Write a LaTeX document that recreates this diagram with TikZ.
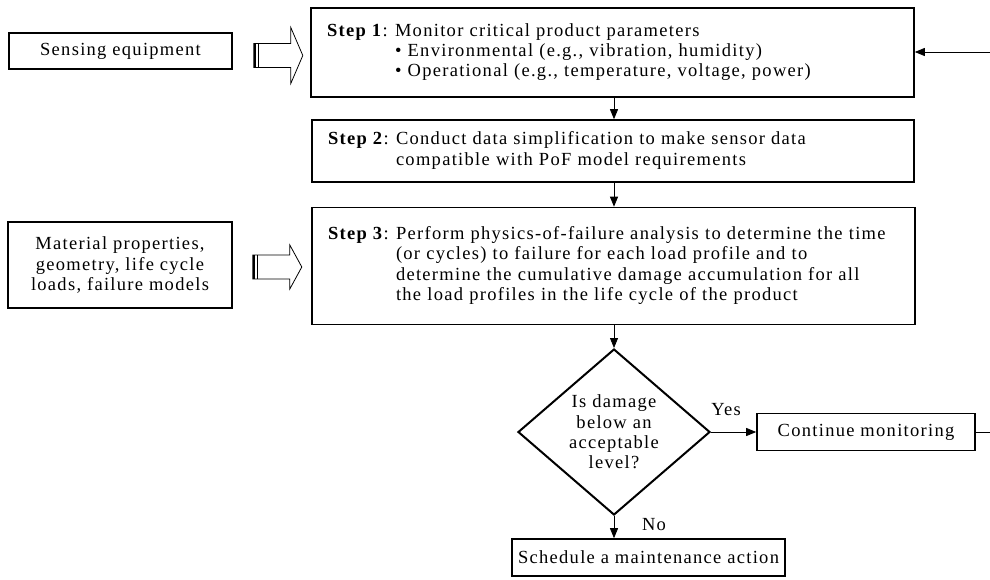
\documentclass[tikz,border=0pt]{standalone}
\usepackage{fontspec}
\setmainfont{Liberation Serif}[LetterSpace=7]
\usetikzlibrary{shapes.geometric,arrows.meta,calc}
\newcommand\fsz{\fontsize{18.5}{20.3}\selectfont}
\begin{document}
\begin{tikzpicture}[x=1pt,y=-1pt,
  box/.style={draw, line width=1.6pt, inner sep=0pt, font=\fsz},
  arr/.style={line width=0.8pt, -{Triangle[length=10pt,width=8pt]}},
  plain/.style={line width=0.8pt},
  lbl/.style={font=\fsz, inner sep=0pt},
  pics/hollowarrow/.style={code={
    \draw[line width=0.8pt, fill=white] (0,-12) -- (37,-12) -- (37,-#1) -- (49,0) -- (37,#1) -- (37,12) -- (0,12) -- cycle;
    \draw[line width=2pt] (1,-12) -- (1,12);
    \draw[line width=1pt] (5,-12) -- (5,12);
  }}]
\useasboundingbox (0,0) rectangle (990,579);

\node[box, minimum width=223pt, minimum height=36pt] (sense) at (120.5,51) {Sensing equipment};
\node[box, minimum width=224pt, minimum height=86pt, align=center] (mat) at (120,265)
  {Material properties,\\geometry, life cycle\\loads, failure models};

\node[box, minimum width=603pt, minimum height=89pt, text width=571pt, align=left] (step1) at (612.5,52.5)
  {\begin{tabular}{@{}p{68pt}@{}l@{}}
   \textbf{Step 1}: & Monitor critical product parameters\\
   & \textbullet\ Environmental (e.g., vibration, humidity)\\
   & \textbullet\ Operational (e.g., temperature, voltage, power)
   \end{tabular}};
\node[box, minimum width=602pt, minimum height=62pt, text width=570pt, align=left] (step2) at (613,151)
  {\begin{tabular}{@{}p{68pt}@{}l@{}}
   \textbf{Step 2}: & Conduct data simplification to make sensor data\\
   & compatible with PoF model requirements
   \end{tabular}};
\node[box, minimum width=603pt, minimum height=117pt, text width=571pt, align=left] (step3) at (613.5,266)
  {\begin{tabular}{@{}p{68pt}@{}l@{}}
   \textbf{Step 3}: & Perform physics-of-failure analysis to determine the time\\
   & (or cycles) to failure for each load profile and to\\
   & determine the cumulative damage accumulation for all\\
   & the load profiles in the life cycle of the product
   \end{tabular}};

\node[diamond, draw, line width=2pt, minimum width=192pt, minimum height=166pt, inner sep=0pt,
  label={[font=\fsz, align=center, inner sep=0pt]center:Is damage\\below an\\acceptable\\level?}] (dia) at (614,432) {};

\node[box, minimum width=218pt, minimum height=37pt] (cont) at (866,432) {Continue monitoring};
\node[box, minimum width=273pt, minimum height=37pt] (maint) at (648.5,557.5) {Schedule a maintenance action};

\node[lbl] (yes) at (726,410) {Yes};
\node[lbl] (no) at (654,525) {No};

\pic at ($(sense.east |- step1.west)+(21,3)$) {hollowarrow=28};
\pic at ($(mat.east |- step3.west)+(20,1)$) {hollowarrow=22};

\draw[arr] (step1.south -| dia.north) -- (step2.north -| dia.north);
\draw[arr] (step2.south -| dia.north) -- (step3.north -| dia.north);
\draw[arr] (step3.south -| dia.north) -- (dia.north);
\draw[arr] (dia.east) -- (cont.west);
\draw[arr] (dia.south) -- (dia.south |- maint.north);

\coordinate (fbtop) at (990,52);
\coordinate (fbbot) at (990,432);
\draw[plain] (cont.east) -- (fbbot);
\draw[arr] (fbtop) -- (fbtop -| step1.east);
\end{tikzpicture}
\end{document}
